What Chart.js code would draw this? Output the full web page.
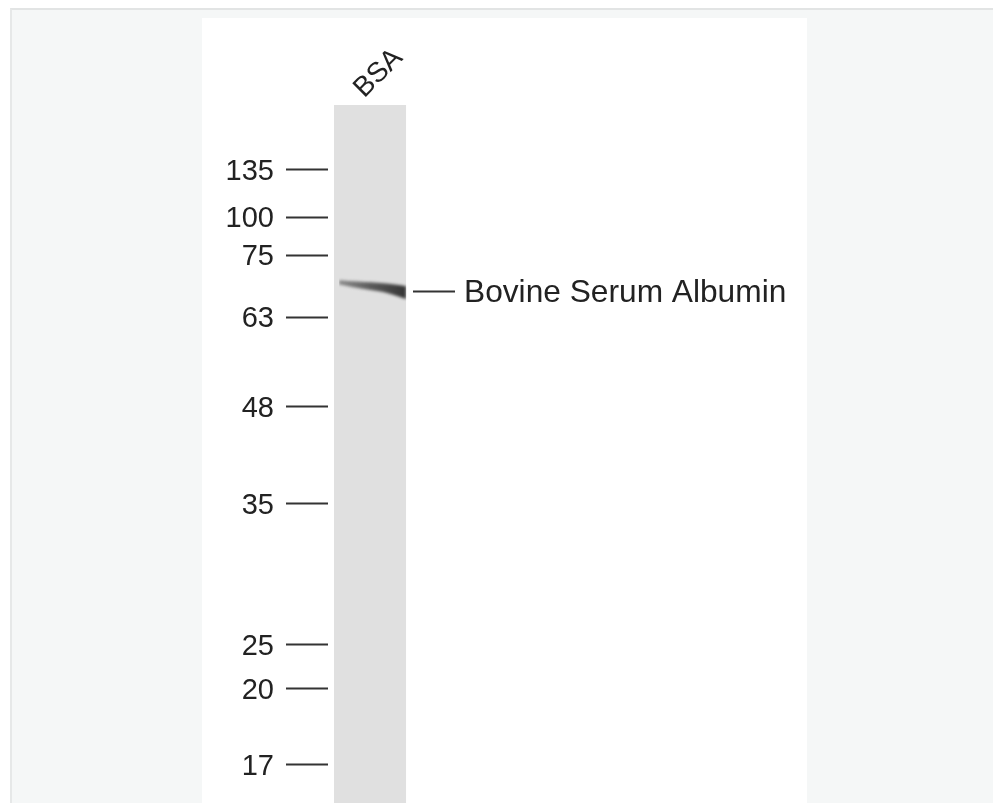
<!DOCTYPE html>
<html>
<head>
<meta charset="utf-8">
<script src="https://cdn.jsdelivr.net/npm/chart.js@4/dist/chart.umd.min.js"></script>
<style>
  html, body { margin: 0; padding: 0; background: #fff; overflow: hidden; }
  #panel { position: absolute; left: 10px; top: 8px; right: 0; bottom: 0;
           background: #f5f7f7; border-top: 2px solid #e2e4e4; border-left: 2px solid #e6e8e8; }
  #sheet { position: absolute; left: 202px; top: 18px; width: 605px; bottom: 0; background: #fff; }
  #blot { position: absolute; left: 0; top: 0; }
</style>
</head>
<body>
<div id="panel"></div>
<div id="sheet"></div>
<canvas id="blot" width="993" height="803"></canvas>
<script>
// lanes along the top
const lanes = ["BSA"];
// lane edges (fraction of plot width)
const laneEdges = [0.07, 0.92];

// marker ladder (kDa) and how far down the gel each one sits (% of visible gel)
const markerLabels = ["135", "100", "75", "63", "48", "35", "25", "20", "17"];
const markerPos = [9.3, 16.05, 21.5, 30.4, 43.2, 57.15, 77.35, 83.65, 94.55];

// the detected band: edges across the lane (x = fraction of plot width, y = % down the gel)
const bandX = [0.13, 0.35, 0.65, 0.92];
const bandTop = [25.1, 25.3, 25.55, 25.95];
const bandBottom = [25.7, 26.2, 26.8, 27.8];
const bandLabel = "Bovine Serum Albumin";
const bandLabelPos = 26.65;

const font = "'Liberation Sans', Arial, sans-serif";
const ink = "#222";

// soften the band edges like a scanned film
const blurBand = {
    id: "blurBand",
    afterDatasetDraw(chart, args) {
        if (args.index === 0) chart.ctx.filter = "blur(1.6px)";
    },
    afterDatasetsDraw(chart) {
        chart.ctx.filter = "none";
    },
};

const ctx = document.getElementById("blot");
const chart = new Chart(ctx, {
    type: "line",
    data: {
        labels: lanes,
        datasets: [
            {
                label: "lane",
                xAxisID: "xb",
                data: laneEdges.map((x) => ({ x: x, y: 0 })),
                borderWidth: 0,
                pointRadius: 0,
                fill: "start",
                backgroundColor: "#e0e0e0",
                order: 2,
            },
            {
                label: "band top",
                xAxisID: "xb",
                data: bandX.map((x, i) => ({ x: x, y: bandTop[i] })),
                borderWidth: 0,
                pointRadius: 0,
                tension: 0.3,
                fill: false,
                order: 1,
            },
            {
                label: "band bottom",
                xAxisID: "xb",
                data: bandX.map((x, i) => ({ x: x, y: bandBottom[i] })),
                borderWidth: 0,
                pointRadius: 0,
                tension: 0.3,
                fill: "-1",
                backgroundColor: (c) => {
                    const a = c.chart.chartArea;
                    if (!a) return "#555";
                    const g = c.chart.ctx.createLinearGradient(a.left, 0, a.right, 0);
                    g.addColorStop(0.12, "rgba(110,110,110,0.75)");
                    g.addColorStop(0.5, "#5a5a5a");
                    g.addColorStop(0.9, "#363636");
                    return g;
                },
                order: 0,
            },
        ],
    },
    options: {
        responsive: false,
        animation: false,
        layout: { padding: 0 },
        plugins: { legend: { display: false }, tooltip: { enabled: false } },
        scales: {
            x: {
                type: "category",
                position: "top",
                offset: true,
                grid: { display: false, drawTicks: false },
                border: { display: false },
                ticks: {
                    minRotation: 45,
                    maxRotation: 45,
                    padding: 0,
                    labelOffset: 12,
                    color: ink,
                    font: { family: font, size: 28 },
                },
                afterFit: (s) => {
                    s.height = 105;
                    s.paddingLeft = 0;
                    s.paddingRight = 0;
                },
            },
            xb: { type: "linear", position: "bottom", min: 0, max: 1, offset: false, display: false },
            y: {
                position: "left",
                reverse: true,
                min: 0,
                max: 100,
                grid: { drawOnChartArea: false, tickLength: 42, tickWidth: 2, tickColor: "#333" },
                border: { display: false },
                ticks: {
                    autoSkip: false,
                    padding: 12,
                    labelOffset: 2,
                    color: ink,
                    font: { family: font, size: 29 },
                    callback: (v, i) => markerLabels[i],
                },
                afterBuildTicks: (s) => {
                    s.ticks = markerPos.map((v) => ({ value: v }));
                },
                afterFit: (s) => {
                    s.width = 328;
                    s.paddingTop = 0;
                    s.paddingBottom = 0;
                },
            },
            y2: {
                position: "right",
                reverse: true,
                min: 0,
                max: 100,
                grid: { drawOnChartArea: false, tickLength: 42, tickWidth: 2, tickColor: "#333" },
                border: { display: false },
                ticks: {
                    autoSkip: false,
                    padding: 9,
                    labelOffset: 2,
                    color: ink,
                    font: { family: font, size: 31.7 },
                    callback: () => bandLabel,
                },
                afterBuildTicks: (s) => {
                    s.ticks = [{ value: bandLabelPos }];
                },
                afterFit: (s) => {
                    s.width = 580;
                    s.paddingTop = 0;
                    s.paddingBottom = 0;
                },
            },
        },
    },
    plugins: [blurBand],
});
</script>
</body>
</html>
